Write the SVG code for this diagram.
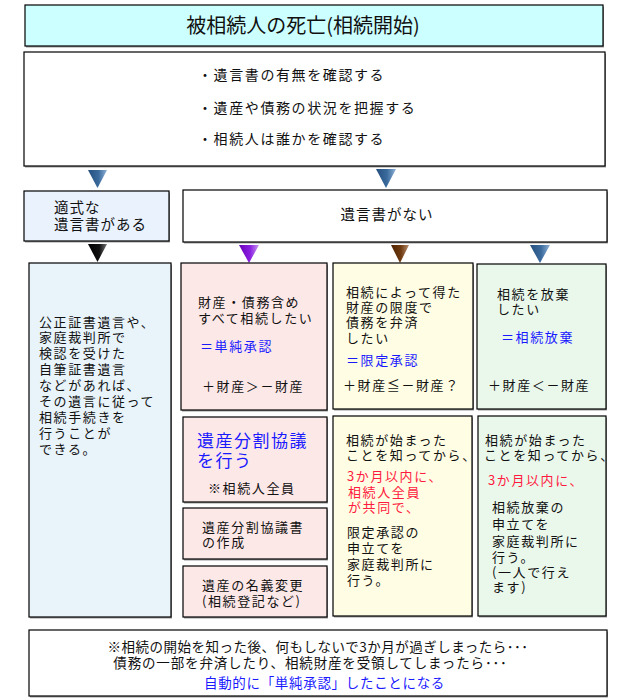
<svg xmlns="http://www.w3.org/2000/svg" width="640" height="700" viewBox="0 0 640 700">
<defs>
<style>
text{font-family:"Noto Sans CJK JP","Noto Sans CJK SC",sans-serif;fill:#111;}
.box{stroke:#000;stroke-width:1.2;}
.sh{fill:#9a9a9a;}
.t{font-size:13px;letter-spacing:1.6px;}
.m{font-size:14.5px;letter-spacing:1px;}
.b{fill:#1a1aff;}
.r{fill:#ff1a40;}
.k{fill:#111;}
</style>
<linearGradient id="gBlue" x1="0" y1="0" x2="1" y2="0"><stop offset="0" stop-color="#244f7e"/><stop offset="0.55" stop-color="#3a6a9c"/><stop offset="1" stop-color="#8fb2d6"/></linearGradient>
<linearGradient id="gBlack" x1="0" y1="0" x2="1" y2="0"><stop offset="0" stop-color="#000"/><stop offset="0.6" stop-color="#111"/><stop offset="1" stop-color="#777"/></linearGradient>
<linearGradient id="gPurple" x1="0" y1="0" x2="1" y2="0"><stop offset="0" stop-color="#6a00b8"/><stop offset="0.55" stop-color="#8a1ee0"/><stop offset="1" stop-color="#c89af0"/></linearGradient>
<linearGradient id="gBrown" x1="0" y1="0" x2="1" y2="0"><stop offset="0" stop-color="#4e2200"/><stop offset="0.55" stop-color="#6e3a10"/><stop offset="1" stop-color="#b89070"/></linearGradient>
</defs>
<rect width="640" height="700" fill="#fff"/>

<g id="connectors">
<polygon points="88,170 107,170 97.5,188" fill="url(#gBlue)"/>
<polygon points="376,169 396,169 386,188" fill="url(#gBlue)"/>
<polygon points="88,244 107,244 97.5,262" fill="url(#gBlack)"/>
<polygon points="239,245 259,245 249,263" fill="url(#gPurple)"/>
<polygon points="391,245 409,245 400,263" fill="url(#gBrown)"/>
<polygon points="530,245 550,245 540,263" fill="url(#gBlue)"/>
</g>

<g id="title">
<rect class="sh" x="26" y="6.5" width="578" height="41"/>
<rect class="box" x="25" y="5" width="578" height="41" fill="#ccffff"/>
<text x="303" y="32.8" font-size="20" text-anchor="middle">被相続人の死亡(相続開始)</text>
</g>

<g id="check">
<rect class="sh" x="25" y="53.5" width="581" height="114"/>
<rect class="box" x="24" y="52" width="581" height="114" fill="#fff"/>
<text x="198" y="80" font-size="14" letter-spacing="1.6">・遺言書の有無を確認する</text>
<text x="198" y="113" font-size="14" letter-spacing="1.6">・遺産や債務の状況を把握する</text>
<text x="198" y="144" font-size="14" letter-spacing="1.6">・相続人は誰かを確認する</text>
</g>

<g id="will-yes">
<rect class="sh" x="25" y="192.5" width="145" height="50"/>
<rect class="box" x="24" y="191" width="145" height="50" fill="#eaf2fd"/>
<text class="m"><tspan x="54" y="212.7">適式な</tspan><tspan x="54" y="230.2">遺言書がある</tspan></text>
</g>

<g id="will-no">
<rect class="sh" x="184" y="191.5" width="424" height="52"/>
<rect class="box" x="183" y="190" width="424" height="52" fill="#fff"/>
<text class="m" x="387" y="220" text-anchor="middle">遺言書がない</text>
</g>

<g id="will-follow">
<rect class="sh" x="30" y="264.5" width="142" height="354"/>
<rect class="box" x="29" y="263" width="142" height="354" fill="#e8f3fa"/>
<text class="t"><tspan x="39" y="326.5">公正証書遺言や、</tspan><tspan x="39" y="342.4">家庭裁判所で</tspan><tspan x="39" y="358.3">検認を受けた</tspan><tspan x="39" y="374.2">自筆証書遺言</tspan><tspan x="39" y="390.1">などがあれば、</tspan><tspan x="39" y="406">その遺言に従って</tspan><tspan x="39" y="421.9">相続手続きを</tspan><tspan x="39" y="437.8">行うことが</tspan><tspan x="39" y="453.7">できる。</tspan></text>
</g>

<g id="simple">
<rect class="sh" x="182" y="264.5" width="146" height="147"/>
<rect class="box" x="181" y="263" width="146" height="147" fill="#fde8e8"/>
<text class="t"><tspan x="198" y="307">財産・債務含め</tspan><tspan x="198" y="323">すべて相続したい</tspan></text>
<text class="t b" x="200" y="351">＝単純承認</text>
<text class="t" x="202" y="391">＋財産＞－財産</text>
</g>

<g id="limited">
<rect class="sh" x="334" y="264.5" width="140" height="146"/>
<rect class="box" x="333" y="263" width="140" height="146" fill="#fffde3"/>
<text class="t"><tspan x="346" y="297">相続によって得た</tspan><tspan x="346" y="312">財産の限度で</tspan><tspan x="346" y="327">債務を弁済</tspan><tspan x="346" y="343">したい</tspan><tspan class="b" x="346" y="364.5">＝限定承認</tspan></text>
<text class="t" x="343" y="390">＋財産≦－財産？</text>
</g>

<g id="renounce">
<rect class="sh" x="478" y="265.5" width="129" height="145"/>
<rect class="box" x="477" y="264" width="129" height="145" fill="#eaf8ec"/>
<text class="t"><tspan x="497" y="299">相続を放棄</tspan><tspan x="497" y="314">したい</tspan></text>
<text class="t b" x="501" y="342">＝相続放棄</text>
<text class="t" x="488" y="390">＋財産＜－財産</text>
</g>

<g id="division">
<rect class="sh" x="184" y="418.5" width="144" height="85"/>
<rect class="box" x="183" y="417" width="144" height="85" fill="#fde8e8"/>
<text class="b" font-size="17" letter-spacing="1.5"><tspan x="197" y="447">遺産分割協議</tspan><tspan x="197" y="467">を行う</tspan></text>
<text class="t" x="208" y="493">※相続人全員</text>
</g>

<g id="agreement">
<rect class="sh" x="184" y="509.5" width="144" height="51"/>
<rect class="box" x="183" y="508" width="144" height="51" fill="#fde8e8"/>
<text class="t"><tspan x="202" y="532">遺産分割協議書</tspan><tspan x="202" y="547">の作成</tspan></text>
</g>

<g id="registration">
<rect class="sh" x="184" y="567.5" width="144" height="51"/>
<rect class="box" x="183" y="566" width="144" height="51" fill="#fde8e8"/>
<text class="t"><tspan x="202" y="590">遺産の名義変更</tspan><tspan x="202" y="606">(相続登記など)</tspan></text>
</g>

<g id="limited-proc">
<rect class="sh" x="334" y="417.5" width="139" height="200"/>
<rect class="box" x="333" y="416" width="139" height="200" fill="#fffde3"/>
<text class="t"><tspan x="346" y="445">相続が始まった</tspan><tspan x="346" y="460">ことを知ってから、</tspan><tspan class="r" x="347" y="481">3か月以内に、</tspan><tspan class="r" x="348" y="497">相続人全員</tspan><tspan class="r" x="348" y="512">が共同で、</tspan><tspan class="k" x="347" y="537">限定承認の</tspan><tspan class="k" x="347" y="553">申立てを</tspan><tspan class="k" x="347" y="569">家庭裁判所に</tspan><tspan class="k" x="347" y="585">行う。</tspan></text>
</g>

<g id="renounce-proc">
<rect class="sh" x="479" y="417.5" width="128" height="200"/>
<rect class="box" x="478" y="416" width="128" height="200" fill="#eaf8ec"/>
<text class="t"><tspan x="485" y="445">相続が始まった</tspan><tspan x="484" y="460">ことを知ってから、</tspan><tspan class="r" x="488" y="485">3か月以内に、</tspan><tspan class="k" x="492" y="512">相続放棄の</tspan><tspan class="k" x="492" y="529">申立てを</tspan><tspan class="k" x="492" y="546">家庭裁判所に</tspan><tspan class="k" x="492" y="562">行う。</tspan><tspan class="k" x="492" y="577">(一人で行え</tspan><tspan class="k" x="492" y="592">ます)</tspan></text>
</g>

<g id="note">
<rect class="sh" x="30" y="631.5" width="578" height="66"/>
<rect class="box" x="29" y="630" width="578" height="66" fill="#fff"/>
<text font-size="13.5" text-anchor="middle"><tspan x="318" y="652" letter-spacing="0.5">※相続の開始を知った後、何もしないで3か月が過ぎしまったら･･･</tspan><tspan x="310.5" y="667.5" letter-spacing="0.85">債務の一部を弁済したり、相続財産を受領してしまったら･･･</tspan><tspan class="b" x="324.5" y="688" letter-spacing="0.68">自動的に「単純承認」したことになる</tspan></text>
</g>
</svg>
